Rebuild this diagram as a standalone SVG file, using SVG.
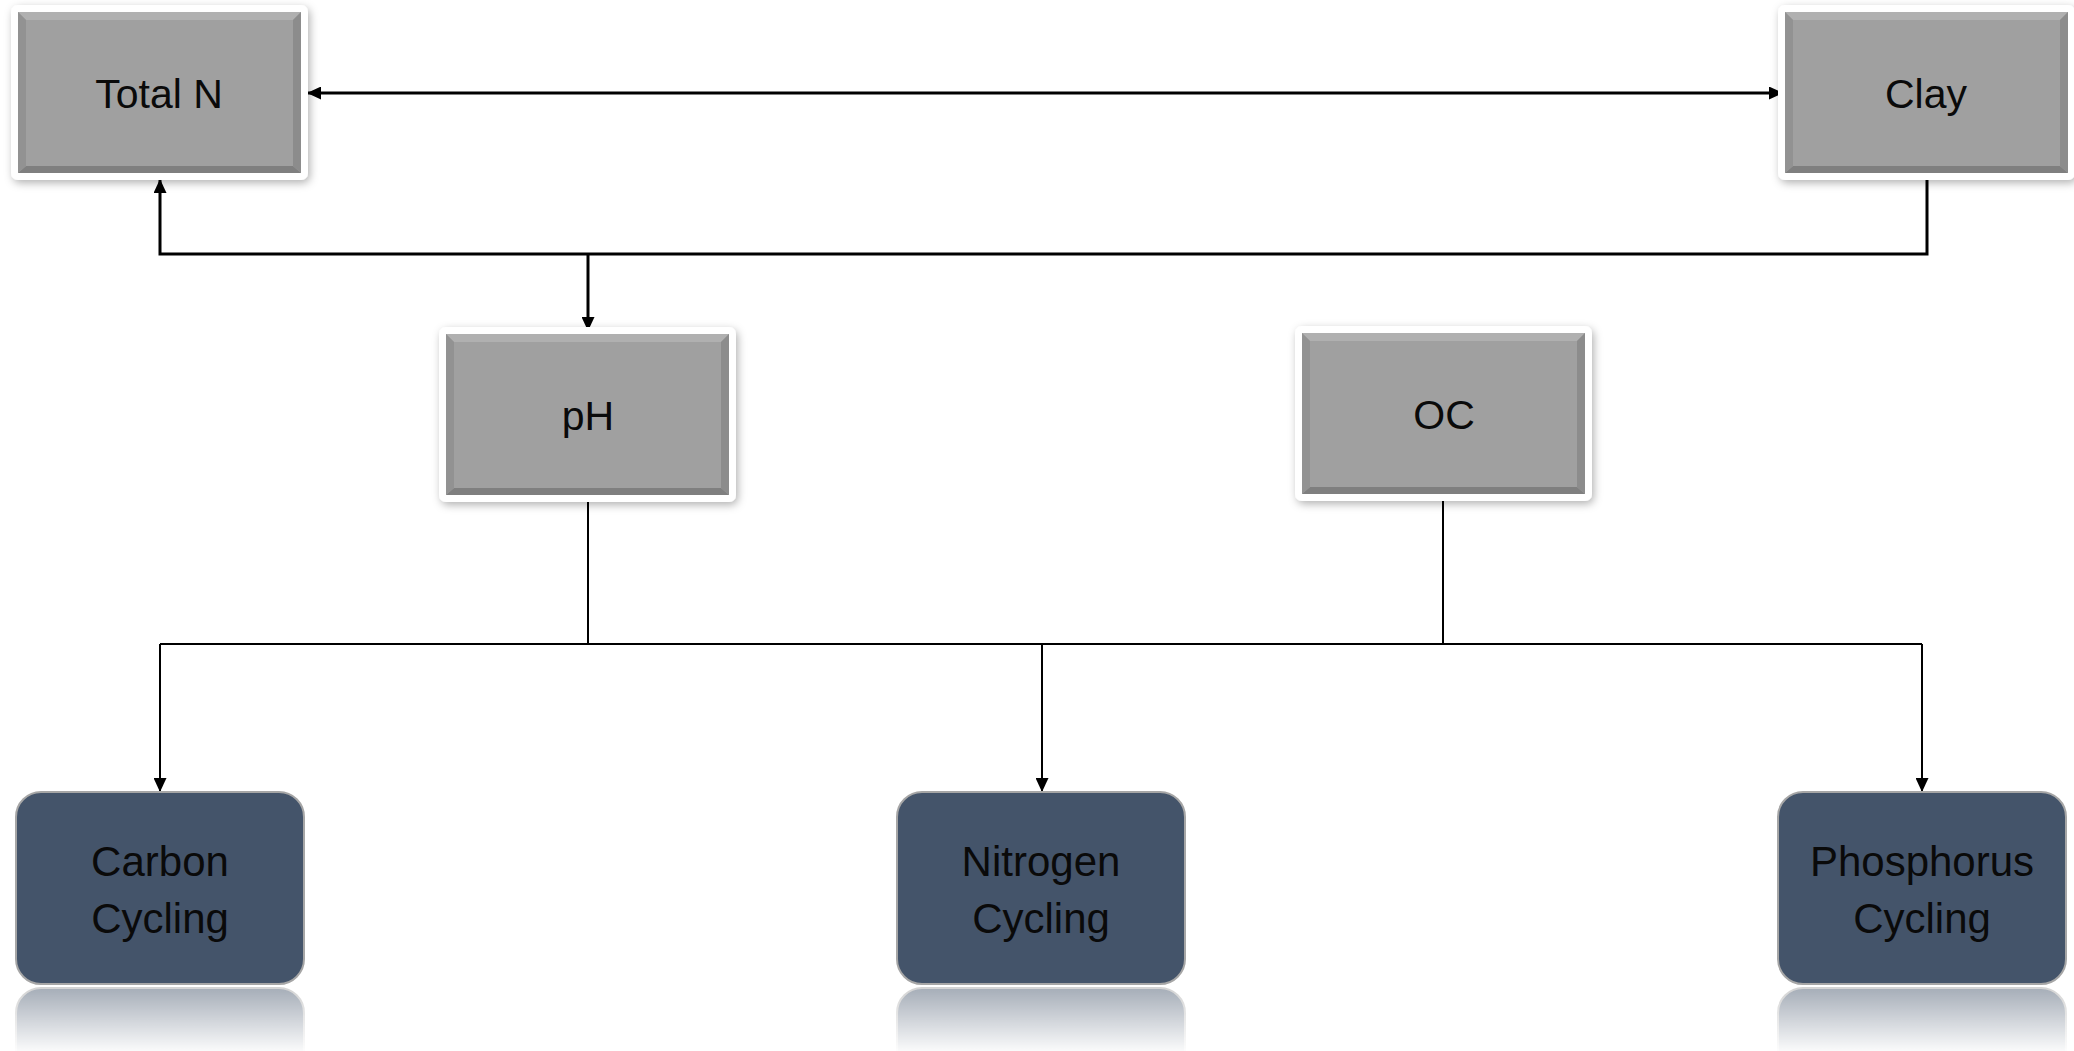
<svg xmlns="http://www.w3.org/2000/svg" xmlns:xlink="http://www.w3.org/1999/xlink" width="2074" height="1051" viewBox="0 0 2074 1051">
  <style>
    .lbl { font-family: "Liberation Sans", Arial, sans-serif; font-size: 41px; fill: #0a0a0a; text-anchor: middle; }
    .lbl2 { font-family: "Liberation Sans", Arial, sans-serif; font-size: 42px; fill: #0a0a0a; text-anchor: middle; }
    .thick { fill: none; stroke: #000; stroke-width: 3; }
    .thin { fill: none; stroke: #000; stroke-width: 2; }
    .cyc { fill: #44546a; stroke: #a6a6a6; stroke-width: 2; }
  </style>
  <defs>
    <filter id="sh" x="-10%" y="-10%" width="125%" height="130%">
      <feDropShadow dx="2" dy="3" stdDeviation="4" flood-color="#000" flood-opacity="0.3"/>
    </filter>
    <marker id="ah" viewBox="0 0 14 13" markerWidth="14" markerHeight="13" refX="14" refY="6.5" orient="auto-start-reverse" markerUnits="userSpaceOnUse">
      <path d="M0,0 L14,6.5 L0,13 z" fill="#000"/>
    </marker>
    <g id="gbox">
      <rect x="0" y="0" width="297" height="175" rx="7" fill="#fff" filter="url(#sh)"/>
      <rect x="7" y="7" width="283" height="161" fill="#a0a0a0"/>
      <polygon points="7,7 290,7 282,15 15,15" fill="#b0b0b0"/>
      <polygon points="7,168 290,168 282,161 15,161" fill="#7f7f7f"/>
      <polygon points="7,7 15,15 15,161 7,168" fill="#929292"/>
      <polygon points="290,7 282,15 282,161 290,168" fill="#8c8c8c"/>
    </g>
    <linearGradient id="fade" x1="0" y1="0" x2="0" y2="1">
      <stop offset="0" stop-color="#fff" stop-opacity="0.5"/>
      <stop offset="1" stop-color="#fff" stop-opacity="0"/>
    </linearGradient>
    <mask id="refl" maskUnits="userSpaceOnUse" x="0" y="985" width="2074" height="70">
      <rect x="0" y="985" width="2074" height="70" fill="url(#fade)"/>
    </mask>
  </defs>

  <g id="connectors">
    <line class="thick" x1="307" y1="93" x2="1783" y2="93" marker-start="url(#ah)" marker-end="url(#ah)"/>
    <path class="thick" d="M1927,180 V254 H160 V179" marker-end="url(#ah)"/>
    <path class="thick" d="M588,254 V331" marker-end="url(#ah)"/>
    <path class="thin" d="M588,502 V644"/>
    <path class="thin" d="M1443,500 V644"/>
    <path class="thin" d="M160,644 H1922"/>
    <path class="thin" d="M160,644 V792" marker-end="url(#ah)"/>
    <path class="thin" d="M1042,644 V792" marker-end="url(#ah)"/>
    <path class="thin" d="M1922,644 V792" marker-end="url(#ah)"/>
  </g>

  <g id="node-totaln">
    <use xlink:href="#gbox" x="11" y="5"/>
    <text class="lbl" x="159" y="108">Total N</text>
  </g>
  <g id="node-clay">
    <use xlink:href="#gbox" x="1778" y="5"/>
    <text class="lbl" x="1926" y="108">Clay</text>
  </g>
  <g id="node-ph">
    <use xlink:href="#gbox" x="439" y="327"/>
    <text class="lbl" x="588" y="430">pH</text>
  </g>
  <g id="node-oc">
    <use xlink:href="#gbox" x="1295" y="326"/>
    <text class="lbl" x="1444" y="429">OC</text>
  </g>

  <g id="node-carbon">
    <rect class="cyc" x="16" y="792" width="288" height="192" rx="25"/>
    <text class="lbl2" x="160" y="876">Carbon</text>
    <text class="lbl2" x="160" y="933">Cycling</text>
  </g>
  <g id="node-nitrogen">
    <rect class="cyc" x="897" y="792" width="288" height="192" rx="25"/>
    <text class="lbl2" x="1041" y="876">Nitrogen</text>
    <text class="lbl2" x="1041" y="933">Cycling</text>
  </g>
  <g id="node-phosphorus">
    <rect class="cyc" x="1778" y="792" width="288" height="192" rx="25"/>
    <text class="lbl2" x="1922" y="876">Phosphorus</text>
    <text class="lbl2" x="1922" y="933">Cycling</text>
  </g>

  <g id="reflections" mask="url(#refl)">
    <g transform="matrix(1,0,0,-1,0,1972)">
      <rect class="cyc" x="16" y="792" width="288" height="192" rx="25"/>
      <rect class="cyc" x="897" y="792" width="288" height="192" rx="25"/>
      <rect class="cyc" x="1778" y="792" width="288" height="192" rx="25"/>
    </g>
  </g>
</svg>
